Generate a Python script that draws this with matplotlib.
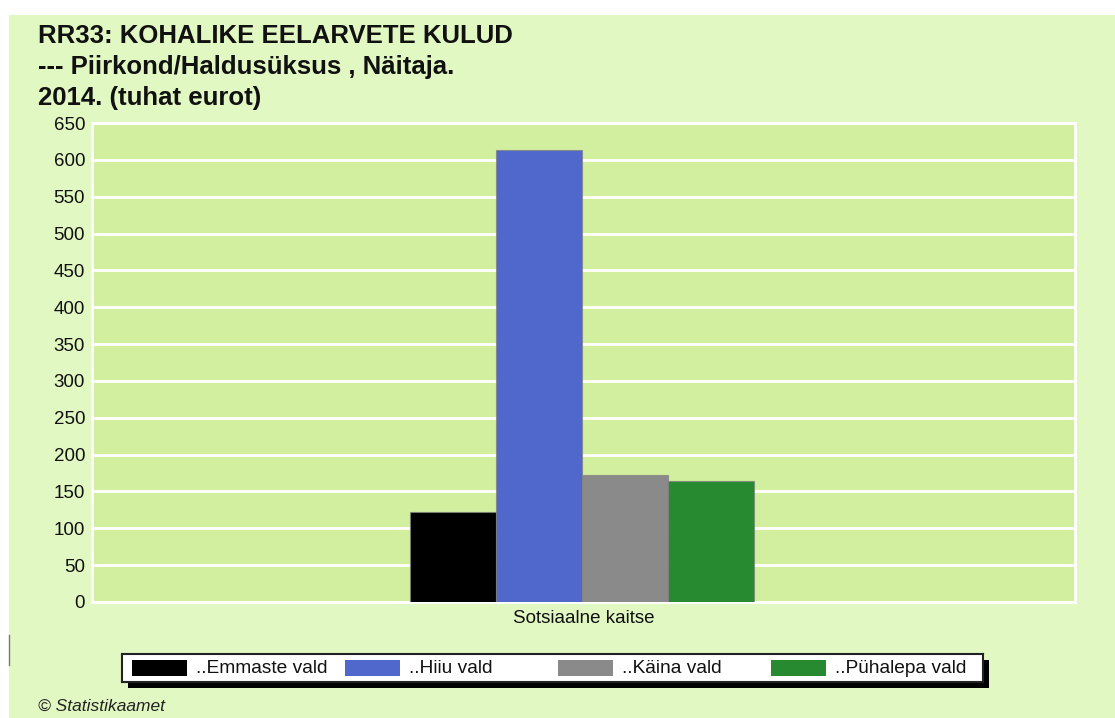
import numpy as np
import matplotlib
matplotlib.use("Agg")
import matplotlib.pyplot as plt
from matplotlib.patches import Rectangle

plt.rcParams['font.family'] = ['Liberation Sans', 'DejaVu Sans']

# andmed
categories = ["Sotsiaalne kaitse"]
series_names = ["..Emmaste vald", "..Hiiu vald", "..Käina vald", "..Pühalepa vald"]
series_values = [[122.7], [613.6], [171.8], [163.6]]
series_colors = ["#000000", "#5068cc", "#8a8a8a", "#278a30"]
y_ticks = list(range(0, 651, 50))
title = "RR33: KOHALIKE EELARVETE KULUD\n--- Piirkond/Haldusüksus , Näitaja.\n2014. (tuhat eurot)"

W, H = 1115, 718
fig = plt.figure(figsize=(W / 100, H / 100), dpi=100)
fig.patch.set_facecolor("white")

def px(x0, y0, w, h):
    # pikslid -> joonise koordinaadid (y ülevalt)
    return [x0 / W, 1 - (y0 + h) / H, w / W, h / H]

# taust
fig.patches.append(Rectangle((9 / W, 0), 1, (H - 15) / H, transform=fig.transFigure,
                             facecolor="#e2f8c3", edgecolor="none", zorder=-10))
fig.add_artist(plt.Line2D([9 / W, 9 / W], [1 - 665 / H, 1 - 635 / H], color="#777777", lw=1))

fig.text(38 / W, 1 - 24 / H, title, fontsize=18.5, fontweight="bold", va="top", ha="left",
         linespacing=1.36, color="#111111")

ax = fig.add_axes(px(92, 123, 983, 479))
ax.set_facecolor("#d2ee9f")

bw = 86 / 983
x = np.arange(len(categories))
for i, (name, vals, col) in enumerate(zip(series_names, series_values, series_colors)):
    ax.bar(x + (i - 1.5) * bw - 0.002, vals, width=bw, color=col, edgecolor=(0.5, 0.5, 0.5, 0.7),
           linewidth=0.8, label=name, zorder=3)

ax.set_xlim(-0.5, 0.5)
ax.set_ylim(0, 650)
ax.set_yticks(y_ticks)
ax.set_xticks(x)
ax.set_xticklabels(categories)
ax.tick_params(axis="both", length=0, labelsize=13.5, colors="#111111")
ax.tick_params(axis="y", pad=5)
ax.tick_params(axis="x", pad=6)
ax.yaxis.grid(True, color="white", lw=2, zorder=1)
for s in ax.spines.values():
    s.set_color("white")
    s.set_linewidth(2)

# legend koos varjuga
fig.patches.append(Rectangle((128 / W, 1 - 688 / H), (983 - 122) / W, 28 / H,
                             transform=fig.transFigure, facecolor="black", edgecolor="none", zorder=1))
lax = fig.add_axes(px(122, 654, 861, 28), zorder=2)
lax.set_xlim(0, 861)
lax.set_ylim(28, 0)
lax.set_xticks([])
lax.set_yticks([])
lax.set_facecolor("white")
for s in lax.spines.values():
    s.set_color("#222222")
    s.set_linewidth(1.5)
for i, (name, col) in enumerate(zip(series_names, series_colors)):
    x0 = 10 + i * 213
    lax.add_patch(Rectangle((x0, 6), 55, 16, facecolor=col, edgecolor="none"))
    lax.text(x0 + 64, 14.5, name, fontsize=13.8, va="center", ha="left", color="#111111")

fig.text(38 / W, 1 - 699 / H, "© Statistikaamet", fontsize=12.5, style="italic",
         va="top", ha="left", color="#222222")

fig.savefig("out.png", dpi=100, facecolor=fig.get_facecolor())
